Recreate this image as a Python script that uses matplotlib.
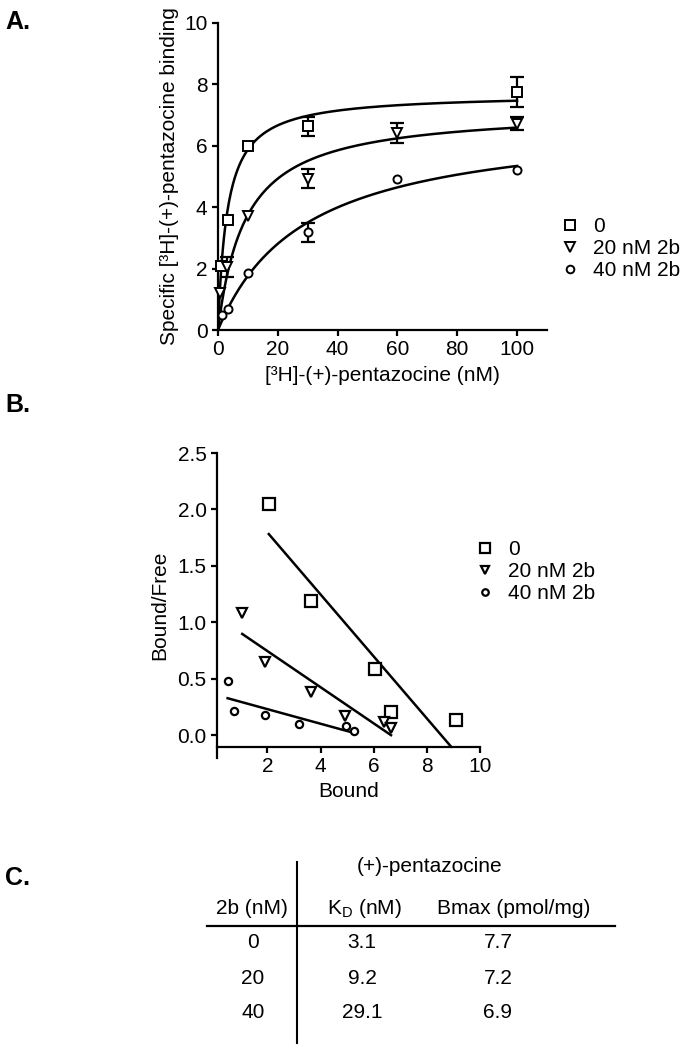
import numpy as np
import matplotlib.pyplot as plt

plt.rcParams['font.family'] = ['Liberation Sans', 'DejaVu Sans']
plt.rcParams['mathtext.fontset'] = 'custom'
plt.rcParams['mathtext.rm'] = 'Liberation Sans'
plt.rcParams['font.size'] = 15

W, H = 686, 1050

series_labels = ['0', '20 nM 2b', '40 nM 2b']
markers = ['s', 'v', 'o']

# panel A: saturation binding, mean and error
conc_0 = [1.0, 3.5, 10, 30, 100]
bind_0 = [2.07, 3.59, 6.0, 6.63, 7.74]
err_0 = [0, 0, 0, 0.3, 0.49]
conc_20 = [0.7, 3.0, 10, 30, 60, 100]
bind_20 = [1.2, 2.05, 3.72, 4.92, 6.41, 6.72]
err_20 = [0, 0.32, 0, 0.31, 0.32, 0.22]
conc_40 = [1.2, 3.5, 10, 30, 60, 100]
bind_40 = [0.49, 0.67, 1.85, 3.18, 4.91, 5.22]
err_40 = [0, 0, 0, 0.31, 0, 0]

# panel B: Scatchard
bound_0 = [2.05, 3.65, 6.05, 6.65, 9.1]
bf_0 = [2.05, 1.19, 0.59, 0.21, 0.14]
bound_20 = [1.05, 1.9, 3.65, 4.9, 6.4, 6.65]
bf_20 = [1.08, 0.65, 0.38, 0.17, 0.12, 0.07]
bound_40 = [0.5, 0.75, 1.9, 3.2, 4.95, 5.25]
bf_40 = [0.48, 0.22, 0.18, 0.10, 0.08, 0.04]

# panel C: table
dose_2b = ['0', '20', '40']
kd_nM = [3.1, 9.2, 29.1]
bmax = [7.7, 7.2, 6.9]


def px_axes(left, top, right, bottom):
    return [left / W, 1 - bottom / H, (right - left) / W, (bottom - top) / H]


def prism_style(ax):
    for s in ['top', 'right']:
        ax.spines[s].set_visible(False)
    for s in ['left', 'bottom']:
        ax.spines[s].set_linewidth(1.6)
    ax.tick_params(direction='out', length=4.5, width=1.6, pad=3, labelsize=15)


fig = plt.figure(figsize=(W / 100, H / 100), dpi=100)

# ---- A ----
axA = fig.add_axes(px_axes(218, 23, 547, 330))
prism_style(axA)
concs = [conc_0, conc_20, conc_40]
binds = [bind_0, bind_20, bind_40]
errs = [err_0, err_20, err_40]
sizes_A = [7, 7, 5.8]
handles = []
for i in range(3):
    x = np.array(concs[i])
    y = np.array(binds[i])
    e = np.array(errs[i])
    m = e > 0
    axA.errorbar(x[m], y[m], yerr=e[m], fmt='none', ecolor='black',
                 elinewidth=1.6, capsize=5, capthick=1.6, zorder=2)
    h, = axA.plot(x, y, linestyle='none', marker=markers[i], ms=sizes_A[i],
                  mfc='white', mec='black', mew=1.4, zorder=3,
                  label=series_labels[i], clip_on=False)
    handles.append(h)
    xf = np.linspace(0, 100, 300)
    axA.plot(xf, bmax[i] * xf / (kd_nM[i] + xf), color='black', lw=1.8, zorder=2)

axA.set_xlim(0, 110)
axA.set_ylim(0, 10)
axA.set_xticks([0, 20, 40, 60, 80, 100])
axA.set_yticks([0, 2, 4, 6, 8, 10])
axA.set_xlabel('[³H]-(+)-pentazocine (nM)', fontsize=15, labelpad=5)
axA.set_ylabel('Specific [³H]-(+)-pentazocine binding', fontsize=15, labelpad=4)
axA.legend(handles=handles, loc='upper left', bbox_to_anchor=(560 / W, 1 - 217 / H),
           bbox_transform=fig.transFigure, frameon=False, fontsize=15,
           handlelength=1.0, handletextpad=0.6, labelspacing=0.15,
           borderpad=0, borderaxespad=0, markerscale=0.95)

# ---- B ----
axB = fig.add_axes(px_axes(217, 453, 480, 758))
prism_style(axB)
axB.spines['bottom'].set_position(('data', -0.1))
bounds = [bound_0, bound_20, bound_40]
bfs = [bf_0, bf_20, bf_40]
sizes_B = [8, 7, 5.2]
handles = []
for i in range(3):
    x = np.array(bounds[i])
    y = np.array(bfs[i])
    slope, icpt = np.polyfit(x, y, 1)
    x_end = min(x.max(), (icpt + 0.1) / -slope)
    xl = np.array([x.min(), x_end])
    axB.plot(xl, icpt + slope * xl, color='black', lw=1.8, zorder=2)
    h, = axB.plot(x, y, linestyle='none', marker=markers[i], ms=sizes_B[i],
                  mfc='white', mec='black', mew=1.6, zorder=3,
                  label=series_labels[i], clip_on=False)
    handles.append(h)

axB.set_xlim(0.1, 10)
axB.set_ylim(-0.2, 2.5)
axB.set_xticks([2, 4, 6, 8, 10])
axB.set_yticks([0.0, 0.5, 1.0, 1.5, 2.0, 2.5])
axB.set_yticklabels(['0.0', '0.5', '1.0', '1.5', '2.0', '2.5'])
axB.set_xlabel('Bound', fontsize=15, labelpad=4)
axB.set_ylabel('Bound/Free', fontsize=15, labelpad=6)
axB.legend(handles=handles, loc='upper left', bbox_to_anchor=(475 / W, 1 - 540 / H),
           bbox_transform=fig.transFigure, frameon=False, fontsize=15,
           handlelength=1.0, handletextpad=0.6, labelspacing=0.15,
           borderpad=0, borderaxespad=0, markerscale=0.9)

# ---- C: table ----
axC = fig.add_axes([0, 0, 1, 1], zorder=-1)
axC.set_xlim(0, W)
axC.set_ylim(H, 0)
axC.axis('off')
axC.plot([297, 297], [862, 1043], color='black', lw=1.5)
axC.plot([207, 615], [926, 926], color='black', lw=1.6)
axC.text(430, 867, '(+)-pentazocine', ha='center', va='center', fontsize=15)
col_x = [252, 364, 514]
val_x = [253, 362, 498]
col_heads = ['2b (nM)', 'K$_\\mathrm{D}$ (nM)', 'Bmax (pmol/mg)']
for cx, t in zip(col_x, col_heads):
    axC.text(cx, 908, t, ha='center', va='center', fontsize=15)
row_y = [942, 978, 1013]
for ry, d, k, b in zip(row_y, dose_2b, kd_nM, bmax):
    axC.text(val_x[0], ry, d, ha='center', va='center', fontsize=15)
    axC.text(val_x[1], ry, f'{k:.1f}', ha='center', va='center', fontsize=15)
    axC.text(val_x[2], ry, f'{b:.1f}', ha='center', va='center', fontsize=15)

# panel letters
for lbl, y in [('A.', 22), ('B.', 405), ('C.', 878)]:
    fig.text(5 / W, 1 - y / H, lbl, ha='left', va='center', fontsize=18,
             fontweight='bold')

fig.savefig('out.png', dpi=100)
